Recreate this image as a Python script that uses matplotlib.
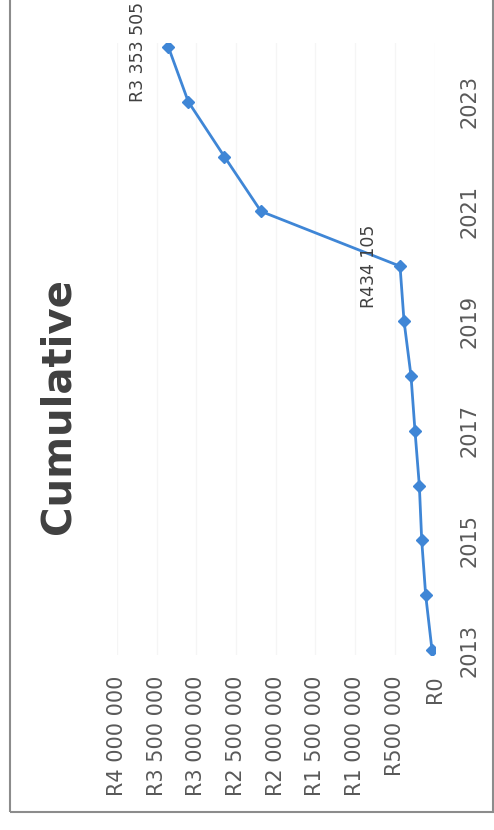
import matplotlib
matplotlib.use("Agg")
import matplotlib.pyplot as plt
from matplotlib.patches import Rectangle

years = [2013, 2014, 2015, 2016, 2017, 2018, 2019, 2020, 2021, 2022, 2023, 2024]
cumulative = [31500, 111000, 161000, 191000, 246000, 296000, 384000, 434105,
              2186000, 2648000, 3102000, 3353505]
value_ticks = [0, 500000, 1000000, 1500000, 2000000, 2500000, 3000000, 3500000, 4000000]
year_ticks = [2013, 2015, 2017, 2019, 2021, 2023]
labelled = {2020: "R434 105", 2024: "R3 353 505"}


def rand(v):
    if v == 0:
        return "R0"
    return "R" + f"{v:,}".replace(",", " ")


W, H = 494, 830
fig = plt.figure(figsize=(W / 100, H / 100), dpi=100)

# chart is drawn turned on its side: values run right-to-left, years bottom-to-top
ax = fig.add_axes([117 / W, 1 - 655 / H, (434.5 - 117) / W, (655 - 43) / H])
ax.plot(cumulative, years, color="#3F86D6", lw=2.0, marker="D", ms=6.5,
        markeredgecolor="#3F86D6", zorder=3)
ax.set_xlim(4000000, 0)
ax.set_ylim(2012.91, 2024.07)

ax.set_xticks(value_ticks)
ax.set_xticklabels([rand(v) for v in value_ticks], rotation=90,
                   fontsize=15, color="#595959")
ax.yaxis.tick_right()
ax.set_yticks(year_ticks)
ax.set_yticklabels([str(y) for y in year_ticks], rotation=90, va="center",
                   fontsize=15, color="#595959")
ax.tick_params(axis="x", length=0, pad=15)
ax.tick_params(axis="y", length=0, pad=18)
ax.grid(axis="x", color="#f5f5f5", lw=1)
for s in ax.spines.values():
    s.set_visible(False)

for yr, val in zip(years, cumulative):
    if yr in labelled:
        ax.annotate(labelled[yr], (val, yr), xytext=(-22, -4 if yr == 2024 else 0),
                    textcoords="offset points", rotation=90,
                    ha="center", va="center", fontsize=12.5, color="#404040")

fig.text(58 / W, 1 - 406 / H, "Cumulative", rotation=90, ha="center",
         va="center", fontsize=29, fontweight="bold", color="#404040")

fig.patches.append(Rectangle((10 / W, 1 - 812 / H), (493 - 10) / W, 812 / H + 0.01,
                             transform=fig.transFigure, fill=False,
                             edgecolor="#8c8c8c", lw=1.5))

fig.savefig("out.png", dpi=100, facecolor="white")
